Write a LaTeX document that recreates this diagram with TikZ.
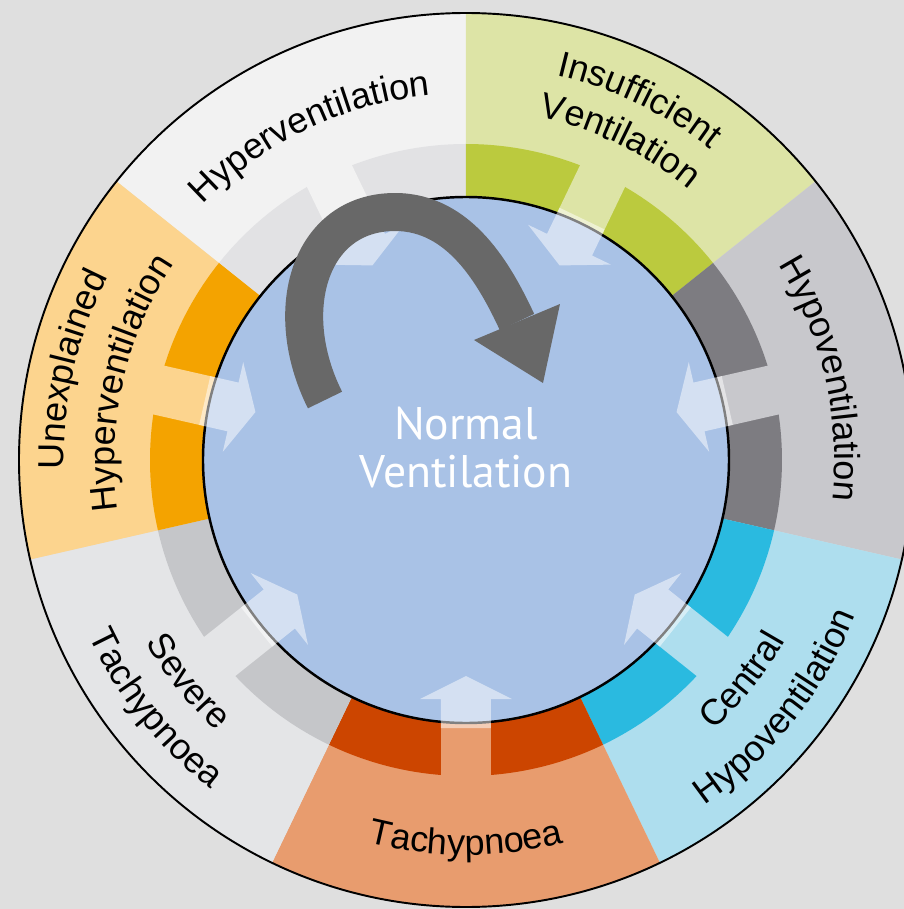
\documentclass[tikz,border=0pt]{standalone}
\usepackage{fontspec}
\setmainfont{Liberation Sans}
\newfontfamily\centerfont{PT Sans}
\usetikzlibrary{decorations.text}

\definecolor{backGray}{RGB}{223,223,223}
\definecolor{normalBlue}{RGB}{169,194,230}
\definecolor{loopGray}{RGB}{104,104,104}
\definecolor{hyperLight}{RGB}{242,242,242}
\definecolor{hyperBand}{RGB}{226,226,228}
\definecolor{insuffLight}{RGB}{221,228,166}
\definecolor{insuffBand}{RGB}{187,202,62}
\definecolor{hypoLight}{RGB}{200,200,204}
\definecolor{hypoBand}{RGB}{125,124,129}
\definecolor{centralLight}{RGB}{174,222,238}
\definecolor{centralBand}{RGB}{42,186,224}
\definecolor{tachyLight}{RGB}{232,156,110}
\definecolor{tachyBand}{RGB}{204,69,0}
\definecolor{severeLight}{RGB}{228,229,231}
\definecolor{severeBand}{RGB}{197,198,201}
\definecolor{unexplLight}{RGB}{252,212,142}
\definecolor{unexplBand}{RGB}{244,163,0}

\newcommand{\ringfont}{\fontsize{20.5}{24}\selectfont}

\tikzset{
  ringtext/.style={decorate, decoration={text along path, text align=center, text={|\ringfont|#1}}},
  inarrow/.style={fill=white, fill opacity=0.5},
}

\begin{document}
\begin{tikzpicture}[scale=0.02]
\useasboundingbox (-466,-449) rectangle (438,460);
\clip (-466,-449) rectangle (438,460);
\fill[backGray] (-466,-449) rectangle (438,460);

% sectors
\fill[hyperLight] (0,0) -- (90:447) arc[start angle=90, end angle=141.43, radius=447] -- cycle; % Hyperventilation
\fill[insuffLight] (0,0) -- (38.57:447) arc[start angle=38.57, end angle=90, radius=447] -- cycle; % Insufficient
\fill[hypoLight] (0,0) -- (-12.86:447) arc[start angle=-12.86, end angle=38.57, radius=447] -- cycle; % Hypoventilation
\fill[centralLight] (0,0) -- (-64.29:447) arc[start angle=-64.29, end angle=-12.86, radius=447] -- cycle; % Central
\fill[tachyLight] (0,0) -- (-115.71:447) arc[start angle=-115.71, end angle=-64.29, radius=447] -- cycle; % Tachypnoea
\fill[severeLight] (0,0) -- (-167.14:447) arc[start angle=-167.14, end angle=-115.71, radius=447] -- cycle; % Severe
\fill[unexplLight] (0,0) -- (141.43:447) arc[start angle=141.43, end angle=192.86, radius=447] -- cycle; % Unexplained

% bands
\fill[hyperBand] (0,0) -- (90:316) arc[start angle=90, end angle=141.43, radius=316] -- cycle;
\fill[insuffBand] (0,0) -- (38.57:316) arc[start angle=38.57, end angle=90, radius=316] -- cycle;
\fill[hypoBand] (0,0) -- (-12.86:316) arc[start angle=-12.86, end angle=38.57, radius=316] -- cycle;
\fill[centralBand] (0,0) -- (-64.29:316) arc[start angle=-64.29, end angle=-12.86, radius=316] -- cycle;
\fill[tachyBand] (0,0) -- (-115.71:316) arc[start angle=-115.71, end angle=-64.29, radius=316] -- cycle;
\fill[severeBand] (0,0) -- (-167.14:316) arc[start angle=-167.14, end angle=-115.71, radius=316] -- cycle;
\fill[unexplBand] (0,0) -- (141.43:316) arc[start angle=141.43, end angle=192.86, radius=316] -- cycle;

% gaps in the bands
\fill[hyperLight, rotate=115.71] (250,-25) rectangle (320,25);
\fill[insuffLight, rotate=64.29] (250,-25) rectangle (320,25);
\fill[hypoLight, rotate=12.86] (250,-25) rectangle (320,25);
\fill[centralLight, rotate=-38.57] (250,-25) rectangle (320,25);
\fill[tachyLight, rotate=-90] (250,-25) rectangle (320,25);
\fill[severeLight, rotate=-141.43] (250,-25) rectangle (320,25);
\fill[unexplLight, rotate=167.14] (250,-25) rectangle (320,25);

\draw[line width=1.1pt] (0,0) circle (447);
\fill[normalBlue] (0,0) circle (263);
\draw[line width=1.4pt] (0,0) circle (263);

% arrows into the centre
\fill[inarrow, rotate=115.71] (268,25) -- (239,25) -- (239,46) -- (216,0) -- (239,-46) -- (239,-25) -- (268,-25) -- cycle;
\fill[inarrow, rotate=64.29] (268,25) -- (239,25) -- (239,46) -- (216,0) -- (239,-46) -- (239,-25) -- (268,-25) -- cycle;
\fill[inarrow, rotate=12.86] (268,25) -- (239,25) -- (239,46) -- (216,0) -- (239,-46) -- (239,-25) -- (268,-25) -- cycle;
\fill[inarrow, rotate=-38.57] (268,25) -- (239,25) -- (239,46) -- (216,0) -- (239,-46) -- (239,-25) -- (268,-25) -- cycle;
\fill[inarrow, rotate=-90] (268,25) -- (239,25) -- (239,46) -- (216,0) -- (239,-46) -- (239,-25) -- (268,-25) -- cycle;
\fill[inarrow, rotate=-141.43] (268,25) -- (239,25) -- (239,46) -- (216,0) -- (239,-46) -- (239,-25) -- (268,-25) -- cycle;
\fill[inarrow, rotate=167.14] (268,25) -- (239,25) -- (239,46) -- (216,0) -- (239,-46) -- (239,-25) -- (268,-25) -- cycle;

% loop arrow
\draw[loopGray, line width=0.76cm] (-141,60) .. controls (-186,150) and (-156,248) .. (-71,248) .. controls (-6,248) and (29,185) .. (51,138);
\fill[loopGray] (8,120) -- (94,156) -- (77,77) -- cycle;

\node[text=white, font=\centerfont\fontsize{26}{27.3}\selectfont, align=center] (normal) at (0,12) {Normal\\Ventilation};

% labels
\path[ringtext=Hyperventilation] (165.71:366.5) arc[start angle=165.71, end angle=65.71, radius=366.5];
\path[ringtext=Insufficient] (114.29:395.5) arc[start angle=114.29, end angle=14.29, radius=395.5];
\path[ringtext=Ventilation] (114.29:350.5) arc[start angle=114.29, end angle=14.29, radius=350.5];
\path[ringtext=Hypoventilation] (62.86:368.5) arc[start angle=62.86, end angle=-37.14, radius=368.5];
\path[ringtext=Central] (-88.57:366.5) arc[start angle=-88.57, end angle=11.43, radius=366.5];
\path[ringtext=Hypoventilation] (-88.57:419.5) arc[start angle=-88.57, end angle=11.43, radius=419.5];
\path[ringtext=Tachypnoea] (-140:395) arc[start angle=-140, end angle=-40, radius=395];
\path[ringtext=Severe] (168.57:368.5) arc[start angle=168.57, end angle=268.57, radius=368.5];
\path[ringtext=Tachypnoea] (168.57:416.5) arc[start angle=168.57, end angle=268.57, radius=416.5];
\path[ringtext=Unexplained] (217.14:402) arc[start angle=217.14, end angle=117.14, radius=402];
\path[ringtext=Hyperventilation] (217.14:351.5) arc[start angle=217.14, end angle=117.14, radius=351.5];
\end{tikzpicture}
\end{document}
